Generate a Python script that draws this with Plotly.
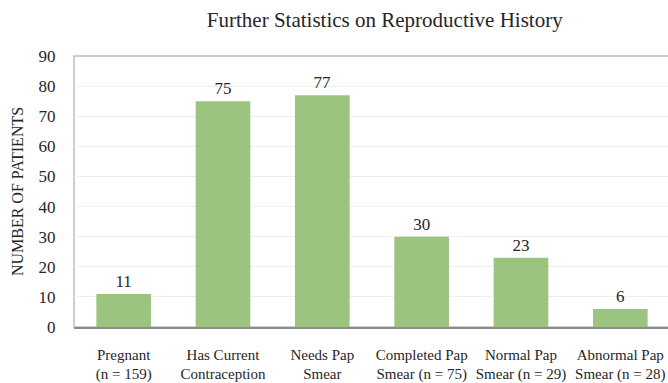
import plotly.graph_objects as go

categories = [
    "Pregnant<br>(n = 159)",
    "Has Current<br>Contraception<br>(n = 126)",
    "Needs Pap<br>Smear<br>(n = 152)",
    "Completed Pap<br>Smear (n = 75)",
    "Normal Pap<br>Smear (n = 29)",
    "Abnormal Pap<br>Smear (n = 28)",
]
values = [11, 75, 77, 30, 23, 6]
y_ticks = [0, 10, 20, 30, 40, 50, 60, 70, 80, 90]

FONT = "Liberation Serif"

fig = go.Figure(
    go.Bar(
        x=categories,
        y=values,
        marker=dict(color="#9BC47F", line=dict(width=0)),
        width=0.55,
        text=[str(v) for v in values],
        textposition="outside",
        textfont=dict(family=FONT, size=17, color="#262626"),
        cliponaxis=False,
    )
)

fig.update_layout(
    width=668,
    height=383,
    margin=dict(l=74, r=0, t=56, b=56),
    paper_bgcolor="white",
    plot_bgcolor="white",
    showlegend=False,
    title=dict(
        text="Further Statistics on Reproductive History",
        font=dict(family=FONT, size=21, color="#262626"),
        x=0.576,
        xanchor="center",
        y=0.948,
        yanchor="middle",
    ),
    font=dict(family=FONT, color="#262626"),
)

fig.update_xaxes(
    range=[-0.5, 5.48],
    automargin=False,
    showline=True,
    linecolor="#8c8c8c",
    linewidth=1.5,
    showgrid=False,
    tickfont=dict(family=FONT, size=15, color="#262626"),
    ticks="outside",
    ticklen=13,
    tickcolor="rgba(0,0,0,0)",
    tickangle=0,
)

fig.update_yaxes(
    range=[0, 90],
    automargin=False,
    tickvals=y_ticks,
    showgrid=True,
    gridcolor="#eeeeee",
    gridwidth=1,
    zeroline=False,
    showline=False,
    tickfont=dict(family=FONT, size=17, color="#262626"),
    ticks="outside",
    ticklen=14,
    tickcolor="rgba(0,0,0,0)",
    title=dict(
        text="NUMBER OF PATIENTS",
        font=dict(family=FONT, size=16, color="#262626"),
        standoff=10,
    ),
)

# plot-area border (light gray box on left and top)
fig.add_shape(
    type="rect", xref="paper", yref="paper", x0=0, x1=1.01, y0=0, y1=1,
    line=dict(color="#bfbfbf", width=1.5), layer="below",
)

fig.write_html("out.html")
